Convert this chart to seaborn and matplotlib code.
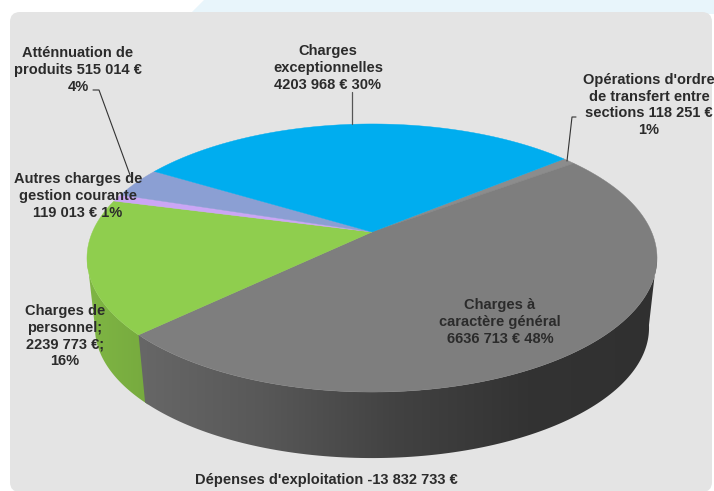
"""Depenses d'exploitation: pseudo 3D pie drawn on a pixel-sized axes."""

import matplotlib
matplotlib.use("Agg")
import matplotlib.pyplot as plt
import numpy as np
import seaborn as sns
from matplotlib.patches import FancyBboxPatch, Polygon

categories = [
    "Opérations d'ordre",
    "Charges à caractère général",
    "Charges de personnel",
    "Autres charges de gestion courante",
    "Atténnuation de produits",
    "Charges exceptionnelles",
]
amounts = [118251, 6636713, 2239773, 119013, 515014, 4203968]
top_colors = ["#8C8C8C", "#7E7E7E", "#8FCE4E", "#CBA6F5", "#8B9FD3", "#00ADEF"]

labels = [
    "Atténnuation de\nproduits 515 014 €\n4%",
    "Charges\nexceptionnelles\n4203 968 € 30%",
    "Opérations d'ordre\nde transfert entre\nsections 118 251 €\n1%",
    "Autres charges de\ngestion courante\n119 013 € 1%",
    "Charges de\npersonnel;\n2239 773 €;\n16%",
    "Charges à\ncaractère général\n6636 713 € 48%",
]
label_pos = [(78, 70), (328, 68), (649, 105), (78, 196), (65, 336), (500, 322)]
title = "Dépenses d'exploitation -13 832 733 €"

START = 50.5  # clockwise from the back of the pie
CX, CY = 372, 232
RX, RY, TILT = 279.6, 129, 0.194
DEPTH, SHRINK = 70.5, 0.972

sns.set_theme(style="white")
plt.rcParams["font.family"] = ["Liberation Sans", "DejaVu Sans"]


def rim(angles, bottom=False):
    t = np.radians(angles)
    u, v = np.sin(t), np.cos(t)
    w = 1 + TILT * v
    s = SHRINK if bottom else 1.0
    x = CX + s * RX * u / w
    y = CY + (DEPTH if bottom else 0) - s * RY * v / w
    return np.column_stack([x, y])


def wall(a, b):
    angles = np.linspace(a, b, 120)
    return np.vstack([rim(angles), rim(angles[::-1], bottom=True)])


fig = plt.figure(figsize=(7.14, 4.91), dpi=100)
ax = fig.add_axes([0, 0, 1, 1])

# page background
ax.add_patch(Polygon([(204, 0), (714, 0), (714, 14), (190, 14)], color="#E8F5FB", lw=0))
ax.add_patch(FancyBboxPatch((10, 12), 702, 480, boxstyle="round,pad=0,rounding_size=10",
                            fc="#E4E4E4", ec="none", zorder=1))

shares = np.array(amounts) / sum(amounts)
edges = START + 360 * np.concatenate([[0], np.cumsum(shares)])

# side wall, shaded along x
green_cmap = sns.blend_palette(["#7FB644", "#76A93E"], as_cmap=True)
green_wall = Polygon(wall(edges[2] - 1, 259), fc="none", ec="none", transform=ax.transData)
ax.add_patch(green_wall)
shade = ax.imshow(np.linspace(0, 1, 64)[None, :], cmap=green_cmap, extent=(85, 155, 470, 220),
                  aspect="auto", zorder=2)
shade.set_clip_path(green_wall)

gray_cmap = sns.blend_palette(["#686868", "#585858", "#424242", "#333333", "#303030"], as_cmap=True)
gray_wall = Polygon(wall(100, edges[2]), fc="none", ec="none", transform=ax.transData)
ax.add_patch(gray_wall)
shade = ax.imshow(np.linspace(0, 1, 256)[None, :], cmap=gray_cmap, extent=(130, 660, 470, 220),
                  aspect="auto", zorder=2.1)
shade.set_clip_path(gray_wall)

# top face
for i, color in enumerate(top_colors):
    arc = rim(np.linspace(edges[i], edges[i + 1], max(int(shares[i] * 360), 4) + 1))
    ax.add_patch(Polygon(np.vstack([[CX, CY], arc]), fc=color, ec=color, lw=0.3, zorder=3))

# leader lines
ax.plot([93, 99, 130], [90, 90, 175], color="#333333", lw=0.8, zorder=4)
ax.plot([352, 352], [92, 124], color="#555555", lw=0.9, zorder=4)
ax.plot([576, 572, 567], [117, 117, 161], color="#333333", lw=0.8, zorder=4)

for text, (x, y) in zip(labels, label_pos):
    ax.text(x, y, text, ha="center", va="center", fontsize=10.5, fontweight="bold",
            color="#2B2B2B", linespacing=1.24, zorder=5)
ax.text(326, 480, title, ha="center", va="center", fontsize=10.5, fontweight="bold",
        color="#2B2B2B", zorder=5)

ax.set_xlim(0, 714)
ax.set_ylim(491, 0)
ax.axis("off")

fig.savefig("out.png", dpi=100, facecolor="white")
